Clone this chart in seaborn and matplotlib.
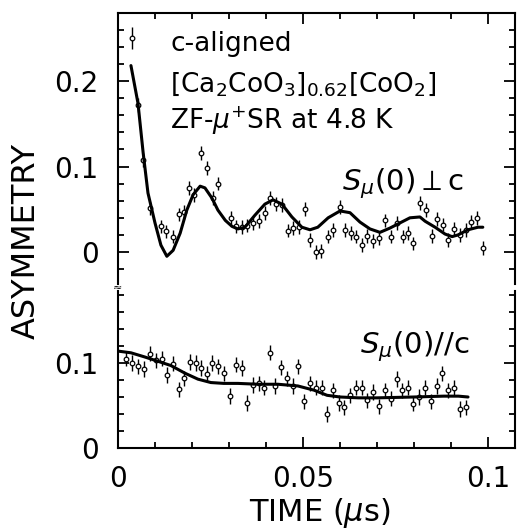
import numpy as np
import pandas as pd
import matplotlib
matplotlib.use("Agg")
import matplotlib.pyplot as plt
from matplotlib.ticker import MultipleLocator, FixedLocator
import seaborn as sns

# ---------------- data ----------------
perp_time = [0.0038, 0.0054, 0.0068, 0.0087, 0.0116, 0.0131, 0.0148, 0.0165, 0.0178, 0.0192,
             0.0205, 0.0224, 0.0240, 0.0257, 0.0270, 0.0305, 0.0320, 0.0335, 0.0350, 0.0365,
             0.0380, 0.0397, 0.0411, 0.0427, 0.0443, 0.0460, 0.0473, 0.0490, 0.0505, 0.0520,
             0.0535, 0.0550, 0.0568, 0.0582, 0.0600, 0.0614, 0.0630, 0.0643, 0.0660, 0.0673,
             0.0689, 0.0705, 0.0722, 0.0738, 0.0754, 0.0770, 0.0784, 0.0797, 0.0815, 0.0832,
             0.0849, 0.0862, 0.0878, 0.0892, 0.0908, 0.0924, 0.0940, 0.0954, 0.0970, 0.0986]
perp_asym = [0.250, 0.172, 0.108, 0.051, 0.030, 0.024, 0.018, 0.044, 0.047, 0.075,
             0.067, 0.116, 0.098, 0.063, 0.080, 0.040, 0.030, 0.029, 0.031, 0.034,
             0.036, 0.046, 0.063, 0.056, 0.055, 0.025, 0.028, 0.029, 0.050, 0.014,
             0.000, 0.001, 0.018, 0.026, 0.053, 0.026, 0.022, 0.018, 0.008, 0.019,
             0.013, 0.016, 0.037, 0.018, 0.034, 0.018, 0.022, 0.010, 0.057, 0.049,
             0.019, 0.039, 0.032, 0.014, 0.027, 0.020, 0.026, 0.035, 0.040, 0.005]
perp_err_first = 0.013
perp_err = 0.008

perp_fit_time = [0.0035, 0.0054, 0.0068, 0.0081, 0.0100, 0.0116, 0.0132, 0.0149, 0.0168, 0.0186,
                 0.0203, 0.0222, 0.0235, 0.0254, 0.0270, 0.0290, 0.0308, 0.0324, 0.0343, 0.0370,
                 0.0397, 0.0419, 0.0443, 0.0470, 0.0497, 0.0519, 0.0540, 0.0568, 0.0600, 0.0627,
                 0.0654, 0.0681, 0.0708, 0.0735, 0.0762, 0.0789, 0.0816, 0.0830, 0.0857, 0.0884,
                 0.0903, 0.0919, 0.0946, 0.0973, 0.0986]
perp_fit = [0.218, 0.174, 0.116, 0.069, 0.034, 0.008, -0.005, 0.002, 0.022, 0.049,
            0.067, 0.077, 0.075, 0.063, 0.049, 0.037, 0.030, 0.027, 0.029, 0.043,
            0.056, 0.061, 0.056, 0.041, 0.029, 0.026, 0.029, 0.040, 0.048, 0.046,
            0.035, 0.027, 0.023, 0.028, 0.034, 0.040, 0.041, 0.036, 0.029, 0.021,
            0.018, 0.020, 0.026, 0.029, 0.029]

par_time = [0.0022, 0.0038, 0.0054, 0.0070, 0.0086, 0.0102, 0.0118, 0.0132, 0.0149, 0.0165,
            0.0178, 0.0195, 0.0210, 0.0224, 0.0240, 0.0254, 0.0270, 0.0286, 0.0303, 0.0319,
            0.0335, 0.0349, 0.0365, 0.0381, 0.0395, 0.0411, 0.0424, 0.0441, 0.0457, 0.0473,
            0.0486, 0.0503, 0.0519, 0.0535, 0.0551, 0.0565, 0.0581, 0.0597, 0.0611, 0.0627,
            0.0643, 0.0659, 0.0673, 0.0689, 0.0705, 0.0722, 0.0738, 0.0754, 0.0768, 0.0784,
            0.0797, 0.0814, 0.0830, 0.0846, 0.0862, 0.0876, 0.0892, 0.0908, 0.0924, 0.0941]
par_asym = [0.105, 0.100, 0.096, 0.093, 0.111, 0.103, 0.105, 0.086, 0.099, 0.069,
            0.082, 0.101, 0.100, 0.094, 0.087, 0.100, 0.096, 0.088, 0.061, 0.098,
            0.094, 0.053, 0.074, 0.076, 0.071, 0.112, 0.073, 0.095, 0.082, 0.073,
            0.096, 0.055, 0.076, 0.071, 0.071, 0.040, 0.068, 0.053, 0.048, 0.062,
            0.071, 0.071, 0.056, 0.066, 0.049, 0.068, 0.058, 0.081, 0.068, 0.071,
            0.052, 0.060, 0.071, 0.055, 0.073, 0.088, 0.068, 0.071, 0.046, 0.048]
par_err = 0.009

par_fit_time = [0.0000, 0.0035, 0.0073, 0.0108, 0.0143, 0.0181, 0.0216, 0.0251, 0.0286, 0.0324,
                0.0378, 0.0432, 0.0486, 0.0530, 0.0565, 0.0600, 0.0650, 0.0700, 0.0800, 0.0880,
                0.0920, 0.0946]
par_fit = [0.114, 0.112, 0.107, 0.102, 0.097, 0.088, 0.081, 0.077, 0.076, 0.076,
           0.075, 0.075, 0.073, 0.068, 0.062, 0.060, 0.059, 0.059, 0.060, 0.061,
           0.061, 0.060]

x_ticks = [0, 0.05, 0.1]
x_ticklabels = ["0", "0.05", "0.1"]
top_yticks = [0, 0.1, 0.2]
top_yticklabels = ["0", "0.1", "0.2"]
bot_yticks = [0, 0.1]
bot_yticklabels = ["0", "0.1"]

# ---------------- style ----------------
sns.set_theme(style="ticks")
plt.rcParams["font.family"] = ["DejaVu Sans"]
plt.rcParams["mathtext.fontset"] = "dejavusans"
plt.rcParams["text.color"] = "black"
plt.rcParams["axes.labelcolor"] = "black"
plt.rcParams["xtick.color"] = "black"
plt.rcParams["ytick.color"] = "black"
plt.rcParams["axes.edgecolor"] = "black"

W, H = 518, 532
fig = plt.figure(figsize=(W / 100, H / 100), dpi=100)
fig.patch.set_facecolor("white")

L = 118 / W
Wd = (515 - 118) / W
ax_top = fig.add_axes([L, (H - 284) / H, Wd, (284 - 13) / H])
ax_bot = fig.add_axes([L, (H - 448) / H, Wd, (448 - 291) / H])

XMAX = 0.1073
LW = 1.5

def style_axis(ax):
    ax.set_facecolor("white")
    for s in ax.spines.values():
        s.set_linewidth(LW)
        s.set_color("black")
    ax.set_xlim(0, XMAX)
    ax.xaxis.set_minor_locator(MultipleLocator(0.01))
    ax.yaxis.set_minor_locator(MultipleLocator(0.02))
    ax.tick_params(which="both", direction="in", width=1.3, colors="black",
                   labelsize=20, left=True, right=True)
    ax.tick_params(which="major", length=8)
    ax.tick_params(which="minor", length=4.5)
    ax.tick_params(axis="y", pad=14)
    ax.tick_params(axis="x", pad=12)
    ax.set_xlabel("")
    ax.set_ylabel("")

# ---- top panel ----
style_axis(ax_top)
errs_top = [perp_err_first] + [perp_err] * (len(perp_time) - 1)
ax_top.errorbar(perp_time, perp_asym, yerr=errs_top, fmt="none",
                ecolor="black", elinewidth=1.0, capsize=0, zorder=2)
sns.scatterplot(x=perp_time, y=perp_asym, ax=ax_top, marker="o", s=11,
                facecolor="white", edgecolor="black", linewidth=0.9, zorder=3)
sns.lineplot(x=perp_fit_time, y=perp_fit, ax=ax_top, color="black", lw=2.2,
             sort=False, zorder=4)
ax_top.set_ylim(-0.0374, 0.2795)
ax_top.spines["bottom"].set_visible(False)
ax_top.tick_params(which="both", bottom=False, labelbottom=False, top=True)
ax_top.xaxis.set_major_locator(FixedLocator(x_ticks))
ax_top.yaxis.set_major_locator(FixedLocator(top_yticks))
ax_top.set_yticklabels(top_yticklabels)

ax_top.text(0.0141, 0.235, "c-aligned", fontsize=19, ha="left", va="baseline")
ax_top.text(0.0141, 0.188, r"[Ca$_2$CoO$_3$]$_{0.62}$[CoO$_2$]", fontsize=19,
            ha="left", va="baseline")
ax_top.text(0.0141, 0.144, r"ZF-$\mu^{+}$SR at 4.8 K", fontsize=19,
            ha="left", va="baseline")
ax_top.text(0.0932, 0.0725, r"$S_{\mu}(0)\perp$c", fontsize=21,
            ha="right", va="baseline")

# ---- bottom panel ----
style_axis(ax_bot)
ax_bot.errorbar(par_time, par_asym, yerr=par_err, fmt="none",
                ecolor="black", elinewidth=1.0, capsize=0, zorder=2)
sns.scatterplot(x=par_time, y=par_asym, ax=ax_bot, marker="o", s=11,
                facecolor="white", edgecolor="black", linewidth=0.9, zorder=3)
sns.lineplot(x=par_fit_time, y=par_fit, ax=ax_bot, color="black", lw=2.2,
             sort=False, zorder=4)
ax_bot.set_ylim(0, 0.1847)
ax_bot.spines["top"].set_visible(False)
ax_bot.tick_params(which="both", top=False, bottom=True)
ax_bot.xaxis.set_major_locator(FixedLocator(x_ticks))
ax_bot.set_xticklabels(x_ticklabels)
ax_bot.yaxis.set_major_locator(FixedLocator(bot_yticks))
ax_bot.set_yticklabels(bot_yticklabels)

ax_bot.text(0.0951, 0.112, r"$S_{\mu}(0)//$c", fontsize=21,
            ha="right", va="baseline")

# break mark on left spine
fig.text(118 / W, 1 - 288 / H, "≈", fontsize=8, ha="center", va="center")

# axis labels
fig.text(26 / W, 1 - 241 / H, "ASYMMETRY", fontsize=23, rotation=90,
         ha="center", va="center")
fig.text(320 / W, 1 - 513 / H, r"TIME ($\mu$s)", fontsize=22,
         ha="center", va="center")

fig.savefig("out.png", dpi=100, facecolor="white")
